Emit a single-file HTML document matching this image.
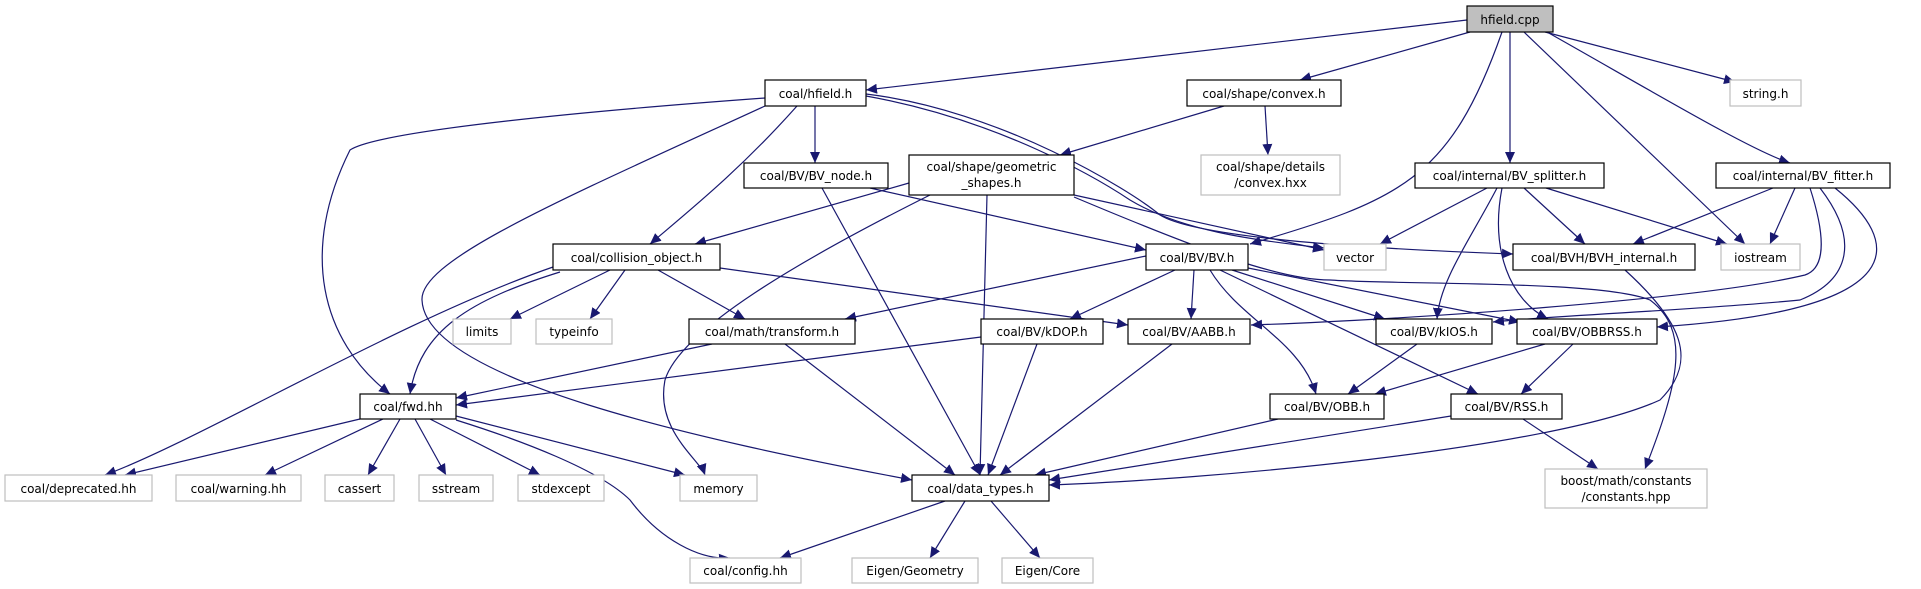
<!DOCTYPE html>
<html><head><meta charset="utf-8"><style>
html,body{margin:0;padding:0;background:#fff;}
svg{display:block;}
text{font-family:"DejaVu Sans","Liberation Sans",sans-serif;font-size:12px;fill:#000;}
.e{fill:none;stroke:#191970;stroke-width:1.2;marker-end:url(#a);}
.n{fill:#fff;stroke:#000;stroke-width:1.2;}
.g{fill:#fff;stroke:#bfbfbf;stroke-width:1.2;}
</style></head><body>
<svg width="1921" height="589" viewBox="0 0 1921 589" xmlns="http://www.w3.org/2000/svg">
<defs><marker id="a" markerUnits="userSpaceOnUse" markerWidth="12" markerHeight="10" refX="11" refY="5" orient="auto"><path d="M0,0 L11,5 L0,10 z" fill="#191970"/></marker></defs>
<g>
<path class="e" d="M1467,20 L866,90"/>
<path class="e" d="M1470,32 L1300,80"/>
<path class="e" d="M1502,32 C1450,180 1400,200 1250,244"/>
<path class="e" d="M1510,32 L1510,163"/>
<path class="e" d="M1524,32 L1745,244"/>
<path class="e" d="M1545,32 L1735,82"/>
<path class="e" d="M1547,32 C1650,90 1750,150 1790,163"/>
<path class="e" d="M765,98 C600,110 380,130 350,150 C300,250 320,340 390,394"/>
<path class="e" d="M765,106 C560,200 420,260 422,300 C425,380 700,440 912,480"/>
<path class="e" d="M797,106 C740,170 690,210 650,244"/>
<path class="e" d="M815,106 L815,163"/>
<path class="e" d="M866,96 C1000,120 1100,180 1130,200 C1180,230 1250,240 1324,248"/>
<path class="e" d="M866,94 C1000,110 1130,190 1160,215 C1200,240 1400,250 1513,254"/>
<path class="e" d="M1224,106 L1060,155"/>
<path class="e" d="M1265,106 L1268,155"/>
<path class="e" d="M909,183 L695,244"/>
<path class="e" d="M930,195 C800,260 680,330 665,380 C655,430 700,460 705,475"/>
<path class="e" d="M987,195 L980,475"/>
<path class="e" d="M1074,195 L1324,250"/>
<path class="e" d="M1074,197 C1200,250 1280,280 1330,280 C1400,285 1600,280 1650,300 C1690,330 1680,380 1645,469"/>
<path class="e" d="M870,188 L1146,250"/>
<path class="e" d="M822,188 L980,475"/>
<path class="e" d="M560,272 C470,300 420,330 410,394"/>
<path class="e" d="M553,267 C400,320 200,440 105,475"/>
<path class="e" d="M610,270 L510,319"/>
<path class="e" d="M625,270 L590,319"/>
<path class="e" d="M658,270 L745,319"/>
<path class="e" d="M720,268 L1128,325"/>
<path class="e" d="M1146,256 L845,319"/>
<path class="e" d="M1175,270 L1070,319"/>
<path class="e" d="M1194,270 L1191,319"/>
<path class="e" d="M1210,270 C1240,320 1300,340 1316,394"/>
<path class="e" d="M1220,270 L1478,394"/>
<path class="e" d="M1232,270 L1385,319"/>
<path class="e" d="M1248,268 L1520,322"/>
<path class="e" d="M1487,188 L1380,244"/>
<path class="e" d="M1497,188 C1470,240 1440,280 1437,319"/>
<path class="e" d="M1502,188 C1490,250 1510,300 1548,319"/>
<path class="e" d="M1524,188 L1585,244"/>
<path class="e" d="M1546,188 L1727,244"/>
<path class="e" d="M1773,188 L1633,244"/>
<path class="e" d="M1795,188 L1770,244"/>
<path class="e" d="M1810,188 C1830,250 1820,270 1805,275 C1700,300 1400,320 1251,325"/>
<path class="e" d="M1820,188 C1860,240 1850,280 1800,300 C1700,310 1560,315 1493,322"/>
<path class="e" d="M1835,188 C1900,240 1920,310 1657,327"/>
<path class="e" d="M1625,270 C1680,320 1700,360 1660,400 C1550,450 1200,480 1049,485"/>
<path class="e" d="M712,344 L456,398"/>
<path class="e" d="M785,344 L955,475"/>
<path class="e" d="M981,337 L456,405"/>
<path class="e" d="M1037,344 L988,475"/>
<path class="e" d="M1172,344 L1000,475"/>
<path class="e" d="M1417,344 L1348,394"/>
<path class="e" d="M1545,344 L1375,394"/>
<path class="e" d="M1573,344 L1521,394"/>
<path class="e" d="M1278,419 L1035,475"/>
<path class="e" d="M1451,416 L1049,480"/>
<path class="e" d="M1523,419 L1598,469"/>
<path class="e" d="M360,419 L125,475"/>
<path class="e" d="M383,419 L265,475"/>
<path class="e" d="M400,419 L368,475"/>
<path class="e" d="M415,419 L446,475"/>
<path class="e" d="M430,419 L540,475"/>
<path class="e" d="M456,416 L685,475"/>
<path class="e" d="M456,420 C520,440 600,470 630,500 C660,540 700,560 730,558"/>
<path class="e" d="M945,501 L780,558"/>
<path class="e" d="M965,501 L930,558"/>
<path class="e" d="M991,501 L1040,558"/>
</g>
<g>
<rect x="1467" y="6" width="86" height="26" fill="#bfbfbf" stroke="#000" stroke-width="1.2"/><text x="1510" y="24" text-anchor="middle">hfield.cpp</text>
<rect class="n" x="765" y="80" width="101" height="26"/><text x="815.5" y="98" text-anchor="middle">coal/hfield.h</text>
<rect class="n" x="1187" y="80" width="154" height="26"/><text x="1264" y="98" text-anchor="middle">coal/shape/convex.h</text>
<rect class="g" x="1730" y="80" width="71" height="26"/><text x="1765.5" y="98" text-anchor="middle">string.h</text>
<rect class="n" x="744" y="163" width="144" height="25"/><text x="816" y="180" text-anchor="middle">coal/BV/BV_node.h</text>
<rect class="n" x="909" y="155" width="165" height="40"/><text x="991.5" y="171" text-anchor="middle">coal/shape/geometric</text><text x="991.5" y="187" text-anchor="middle">_shapes.h</text>
<rect class="g" x="1201" y="155" width="139" height="40"/><text x="1270.5" y="171" text-anchor="middle">coal/shape/details</text><text x="1270.5" y="187" text-anchor="middle">/convex.hxx</text>
<rect class="n" x="1415" y="163" width="189" height="25"/><text x="1509.5" y="180" text-anchor="middle">coal/internal/BV_splitter.h</text>
<rect class="n" x="1716" y="163" width="174" height="25"/><text x="1803" y="180" text-anchor="middle">coal/internal/BV_fitter.h</text>
<rect class="n" x="553" y="244" width="167" height="26"/><text x="636.5" y="262" text-anchor="middle">coal/collision_object.h</text>
<rect class="n" x="1146" y="244" width="102" height="26"/><text x="1197" y="262" text-anchor="middle">coal/BV/BV.h</text>
<rect class="g" x="1324" y="244" width="62" height="26"/><text x="1355" y="262" text-anchor="middle">vector</text>
<rect class="n" x="1513" y="244" width="182" height="26"/><text x="1604" y="262" text-anchor="middle">coal/BVH/BVH_internal.h</text>
<rect class="g" x="1721" y="244" width="79" height="26"/><text x="1760.5" y="262" text-anchor="middle">iostream</text>
<rect class="g" x="453" y="319" width="58" height="25"/><text x="482" y="336" text-anchor="middle">limits</text>
<rect class="g" x="536" y="319" width="76" height="25"/><text x="574" y="336" text-anchor="middle">typeinfo</text>
<rect class="n" x="689" y="319" width="166" height="25"/><text x="772" y="336" text-anchor="middle">coal/math/transform.h</text>
<rect class="n" x="981" y="319" width="122" height="25"/><text x="1042" y="336" text-anchor="middle">coal/BV/kDOP.h</text>
<rect class="n" x="1128" y="319" width="122" height="25"/><text x="1189" y="336" text-anchor="middle">coal/BV/AABB.h</text>
<rect class="n" x="1376" y="319" width="116" height="25"/><text x="1434" y="336" text-anchor="middle">coal/BV/kIOS.h</text>
<rect class="n" x="1517" y="319" width="140" height="25"/><text x="1587" y="336" text-anchor="middle">coal/BV/OBBRSS.h</text>
<rect class="n" x="360" y="394" width="96" height="25"/><text x="408" y="411" text-anchor="middle">coal/fwd.hh</text>
<rect class="n" x="1270" y="394" width="114" height="25"/><text x="1327" y="411" text-anchor="middle">coal/BV/OBB.h</text>
<rect class="n" x="1451" y="394" width="111" height="25"/><text x="1506.5" y="411" text-anchor="middle">coal/BV/RSS.h</text>
<rect class="g" x="5" y="475" width="147" height="26"/><text x="78.5" y="493" text-anchor="middle">coal/deprecated.hh</text>
<rect class="g" x="176" y="475" width="125" height="26"/><text x="238.5" y="493" text-anchor="middle">coal/warning.hh</text>
<rect class="g" x="325" y="475" width="69" height="26"/><text x="359.5" y="493" text-anchor="middle">cassert</text>
<rect class="g" x="419" y="475" width="74" height="26"/><text x="456" y="493" text-anchor="middle">sstream</text>
<rect class="g" x="518" y="475" width="86" height="26"/><text x="561" y="493" text-anchor="middle">stdexcept</text>
<rect class="g" x="680" y="475" width="77" height="26"/><text x="718.5" y="493" text-anchor="middle">memory</text>
<rect class="n" x="912" y="475" width="137" height="26"/><text x="980.5" y="493" text-anchor="middle">coal/data_types.h</text>
<rect class="g" x="1545" y="469" width="162" height="39"/><text x="1626" y="485" text-anchor="middle">boost/math/constants</text><text x="1626" y="501" text-anchor="middle">/constants.hpp</text>
<rect class="g" x="690" y="558" width="111" height="25"/><text x="745.5" y="575" text-anchor="middle">coal/config.hh</text>
<rect class="g" x="852" y="558" width="126" height="25"/><text x="915" y="575" text-anchor="middle">Eigen/Geometry</text>
<rect class="g" x="1002" y="558" width="91" height="25"/><text x="1047.5" y="575" text-anchor="middle">Eigen/Core</text>
</g>
</svg>
</body></html>
